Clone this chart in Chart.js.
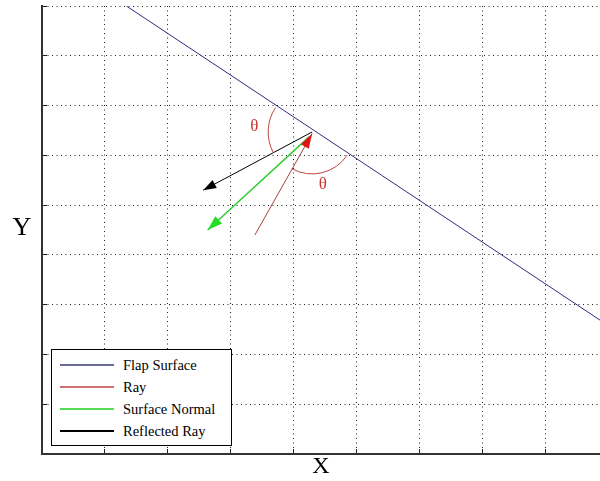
<!DOCTYPE html>
<html>
<head>
<meta charset="utf-8">
<script src="https://cdn.jsdelivr.net/npm/chart.js@4.4.0/dist/chart.umd.min.js"></script>
<style>
body{margin:0;background:#fff}
#wrap{position:relative;width:600px;height:481px}
#legend{position:absolute;left:51px;top:349px;width:179px;height:95px;border:1px solid #000;background:#fff;
  font:14.5px "Liberation Serif","Times New Roman",serif;color:#000}
#legend .row{position:absolute;left:0;width:179px;height:22px;line-height:22px;white-space:nowrap}
#legend .sw{position:absolute;left:8px;top:10px;width:54px;height:2px}
#legend .tx{position:absolute;left:71px;top:0}
</style>
</head>
<body>
<div id="wrap">
  <canvas id="myChart" width="600" height="481"></canvas>
  <div id="legend"></div>
</div>
<script>
// grid units: 1 x step = one vertical grid cell, 1 y step = one horizontal grid cell
const flapX = [1.34, 8.86];
const flapY = [9.0, 2.69];
const rayX = [3.38, 4.29];
const rayY = [4.40, 6.44];
const normalX = [4.24, 2.63];
const normalY = [6.37, 4.50];
const reflX = [4.29, 2.56];
const reflY = [6.47, 5.30];
const thetaX = [3.37, 4.46];
const thetaY = [6.57, 5.42];
const labels = ['Flap Surface', 'Ray', 'Surface Normal', 'Reflected Ray'];
const lineColors = ['#2e2e80', '#a8403c', '#33cc33', '#000000'];
const legendColors = ['#6a6a9a', '#d07070', '#55dd55', '#000000'];

function pts(xs, ys) {
    let out = [];
    for (let i = 0; i < xs.length; i++) out.push({x: xs[i], y: ys[i]});
    return out;
}

const serif = '"Liberation Serif","Times New Roman",serif';

// arrow heads, angle arcs, theta labels and the upright Y title
const extras = {
    id: 'extras',
    afterDatasetsDraw(chart) {
        const ctx = chart.ctx;
        const sx = chart.scales.x, sy = chart.scales.y;
        chart.data.datasets.forEach((ds, i) => {
            if (!ds.arrow) return;
            const p = chart.getDatasetMeta(i).data;
            const a = p[p.length - 2], b = p[p.length - 1];
            const ang = Math.atan2(b.y - a.y, b.x - a.x);
            const L = ds.arrow.len, W = ds.arrow.width / 2;
            ctx.save();
            ctx.fillStyle = ds.arrow.color;
            ctx.beginPath();
            ctx.moveTo(b.x, b.y);
            ctx.lineTo(b.x - L * Math.cos(ang) - W * Math.sin(ang), b.y - L * Math.sin(ang) + W * Math.cos(ang));
            ctx.lineTo(b.x - L * Math.cos(ang) + W * Math.sin(ang), b.y - L * Math.sin(ang) - W * Math.cos(ang));
            ctx.closePath();
            ctx.fill();
            ctx.restore();
        });

        // arcs around the hit point
        const cx = sx.getPixelForValue(reflX[0]), cy = sy.getPixelForValue(reflY[0]);
        const f0x = sx.getPixelForValue(flapX[0]), f0y = sy.getPixelForValue(flapY[0]);
        const f1x = sx.getPixelForValue(flapX[1]), f1y = sy.getPixelForValue(flapY[1]);
        const upLeft = Math.atan2(f0y - f1y, f0x - f1x);
        const downRight = Math.atan2(f1y - f0y, f1x - f0x);
        const reflAng = Math.atan2(sy.getPixelForValue(reflY[1]) - cy, sx.getPixelForValue(reflX[1]) - cx);
        const rayBack = Math.atan2(sy.getPixelForValue(rayY[0]) - cy, sx.getPixelForValue(rayX[0]) - cx);
        ctx.save();
        ctx.strokeStyle = '#c04444';
        ctx.lineWidth = 1;
        ctx.beginPath();
        ctx.arc(cx, cy, 44, reflAng, upLeft + 2 * Math.PI);
        ctx.stroke();
        ctx.beginPath();
        ctx.arc(cx, cy, 42, downRight, rayBack);
        ctx.stroke();

        ctx.fillStyle = '#cc3333';
        ctx.font = '17px ' + serif;
        ctx.textAlign = 'center';
        ctx.textBaseline = 'middle';
        for (let i = 0; i < thetaX.length; i++) {
            ctx.fillText('\u03b8', sx.getPixelForValue(thetaX[i]), sy.getPixelForValue(thetaY[i]));
        }

        ctx.fillStyle = '#000';
        ctx.font = '26px ' + serif;
        ctx.fillText('Y', 22, (chart.chartArea.top + chart.chartArea.bottom) / 2 - 2);
        ctx.restore();
    }
};

const ctx = document.getElementById('myChart').getContext('2d');
const myChart = new Chart(ctx, {
    type: 'scatter',
    data: {
        datasets: [{
            label: labels[0],
            data: pts(flapX, flapY),
            borderColor: lineColors[0],
            borderWidth: 1
        }, {
            label: labels[1],
            data: pts(rayX, rayY),
            borderColor: lineColors[1],
            borderWidth: 1,
            arrow: {color: '#e01414', len: 15, width: 9}
        }, {
            label: labels[2],
            data: pts(normalX, normalY),
            borderColor: lineColors[2],
            borderWidth: 1.5,
            arrow: {color: '#22dd22', len: 15, width: 10}
        }, {
            label: labels[3],
            data: pts(reflX, reflY),
            borderColor: lineColors[3],
            borderWidth: 1,
            arrow: {color: '#000000', len: 13, width: 9}
        }]
    },
    options: {
        responsive: false,
        animation: false,
        showLine: true,
        elements: {
            point: {radius: 0, hoverRadius: 0},
            line: {tension: 0, fill: false}
        },
        layout: {padding: {top: 6, right: 0, left: 0, bottom: 0}},
        plugins: {
            legend: {display: false},
            tooltip: {enabled: false}
        },
        scales: {
            x: {
                type: 'linear',
                min: 0,
                max: 8.86,
                ticks: {stepSize: 1, display: false, includeBounds: false},
                grid: {color: '#222', lineWidth: 1, tickLength: -5, tickColor: '#222', tickBorderDash: []},
                border: {display: true, color: '#333', width: 2, dash: [1, 3.5]},
                title: {display: true, text: 'X', color: '#000', padding: 0, font: {family: serif, size: 24}},
                afterFit: s => { s.height = 27; }
            },
            y: {
                type: 'linear',
                min: 0,
                max: 9,
                ticks: {stepSize: 1, display: false, includeBounds: false},
                grid: {color: '#222', lineWidth: 1, tickLength: -5, tickColor: '#222', tickBorderDash: []},
                border: {display: true, color: '#333', width: 2, dash: [1, 3.5]},
                afterFit: s => { s.width = 42; }
            }
        }
    },
    plugins: [extras]
});

// legend box in the lower left of the plot
const leg = document.getElementById('legend');
myChart.data.datasets.forEach((ds, i) => {
    const row = document.createElement('div');
    row.className = 'row';
    row.style.top = (4 + i * 22) + 'px';
    const sw = document.createElement('div');
    sw.className = 'sw';
    sw.style.background = legendColors[i];
    const tx = document.createElement('span');
    tx.className = 'tx';
    tx.textContent = ds.label;
    row.appendChild(sw);
    row.appendChild(tx);
    leg.appendChild(row);
});
</script>
</body>
</html>
